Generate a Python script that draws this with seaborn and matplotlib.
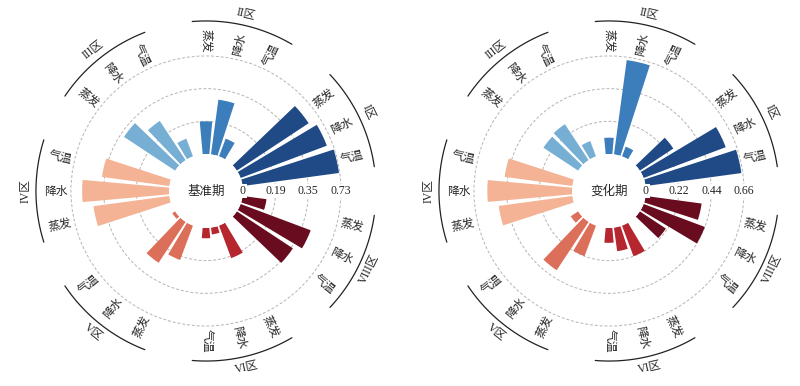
import matplotlib
matplotlib.use("Agg")
import matplotlib.pyplot as plt
import numpy as np
import pandas as pd
import seaborn as sns

sns.set_style("white")
plt.rcParams['font.family'] = ['Noto Sans CJK SC', 'DejaVu Sans']

zones = ["I区", "II区", "III区", "IV区", "V区", "VI区", "VIII区"]
variables = ["气温", "降水", "蒸发"]
zone_colors = ["#1f4a86", "#3c7dbb", "#77afd4", "#f4b395",
               "#dc6f59", "#b5262f", "#6a0c20"]

# values per zone: 气温, 降水, 蒸发
base_values = [[0.72, 0.66, 0.59],
               [0.11, 0.30, 0.19],
               [0.11, 0.26, 0.33],
               [0.38, 0.60, 0.48],
               [0.02, 0.27, 0.21],
               [0.06, 0.04, 0.20],
               [0.37, 0.46, 0.14]]
change_values = [[0.65, 0.59, 0.27],
                 [0.07, 0.64, 0.11],
                 [0.11, 0.29, 0.28],
                 [0.46, 0.57, 0.50],
                 [0.06, 0.39, 0.22],
                 [0.10, 0.16, 0.22],
                 [0.21, 0.44, 0.38]]
base_ticks = [0, 0.19, 0.35, 0.73]
change_ticks = [0, 0.22, 0.44, 0.66]

HOLE = 1.13
RMAX = 4.65
LABEL_R = 3.46
ARC_R = 4.07
ZONE_R = 4.40
N_SLOT = 28
STEP = 2 * np.pi / N_SLOT

serif = ['Liberation Serif', 'Noto Sans CJK SC']


def to_df(values):
    rows = []
    for i, z in enumerate(zones):
        for j, v in enumerate(variables):
            rows.append({"zone": z, "var": v, "value": values[i][j],
                         "slot": 4 * i + 1 + j, "color": zone_colors[i]})
    return pd.DataFrame(rows)


def draw(ax, values, ticks, center_text):
    df = to_df(values)
    df["theta"] = df["slot"] * STEP
    # piecewise radial scale, equal spacing between the tick values
    df["pos"] = np.interp(df["value"], ticks, range(len(ticks)))

    ax.bar(df["theta"], df["pos"], width=0.8 * STEP, bottom=0,
           color=df["color"], edgecolor='none', zorder=2)

    ax.set_rorigin(-HOLE)
    ax.set_ylim(0, RMAX)
    ax.set_yticks([1, 2, 3])
    ax.set_yticklabels([])
    ax.set_xticks([])
    ax.yaxis.grid(True, ls=(0, (3, 2)), color='#b5b5b5', lw=0.7)
    ax.xaxis.grid(False)
    # polar axes re-enable the inner spine when drawing, so blank them instead
    for sp in ax.spines.values():
        sp.set_edgecolor('none')
        sp.set_linewidth(0)
    ax.set_axisbelow(True)

    for k, t in enumerate(ticks):
        ax.text(0, k, "0" if t == 0 else "{:g}".format(t), ha='center', va='center',
                fontsize=8.5, family=serif, zorder=3,
                bbox=dict(facecolor='white', edgecolor='none', pad=0.5))

    for _, row in df.iterrows():
        deg = np.degrees(row["theta"]) % 360
        rot = deg - 180 if 90 <= deg < 270 else (deg if deg < 90 else deg - 360)
        ax.text(row["theta"], LABEL_R, row["var"], ha='center', va='center',
                rotation=rot, rotation_mode='anchor', fontsize=8.5)

    for i, z in enumerate(zones):
        c = (4 * i + 2) * STEP
        th = np.linspace(c - np.radians(17.5), c + np.radians(17.5), 60)
        ax.plot(th, np.full_like(th, ARC_R), color='#222222', lw=0.9, clip_on=False)
        deg = np.degrees(c)
        rot = deg - 90 if 0 < deg <= 180 else deg + 90 - 360
        ax.text(c, ZONE_R, z, ha='center', va='center', rotation=rot,
                rotation_mode='anchor', fontsize=8.5, family=serif)

    ax.text(0.5, 0.5, center_text, transform=ax.transAxes, ha='center',
            va='center', fontsize=9)


fig = plt.figure(figsize=(8, 3.86), dpi=100)
w, h = 378 / 800, 378 / 386
bottom = 6 / 386
ax1 = fig.add_axes([17 / 800, bottom, w, h], projection='polar')
ax2 = fig.add_axes([420 / 800, bottom, w, h], projection='polar')

draw(ax1, base_values, base_ticks, "基准期")
draw(ax2, change_values, change_ticks, "变化期")

fig.savefig("out.png", dpi=100)
